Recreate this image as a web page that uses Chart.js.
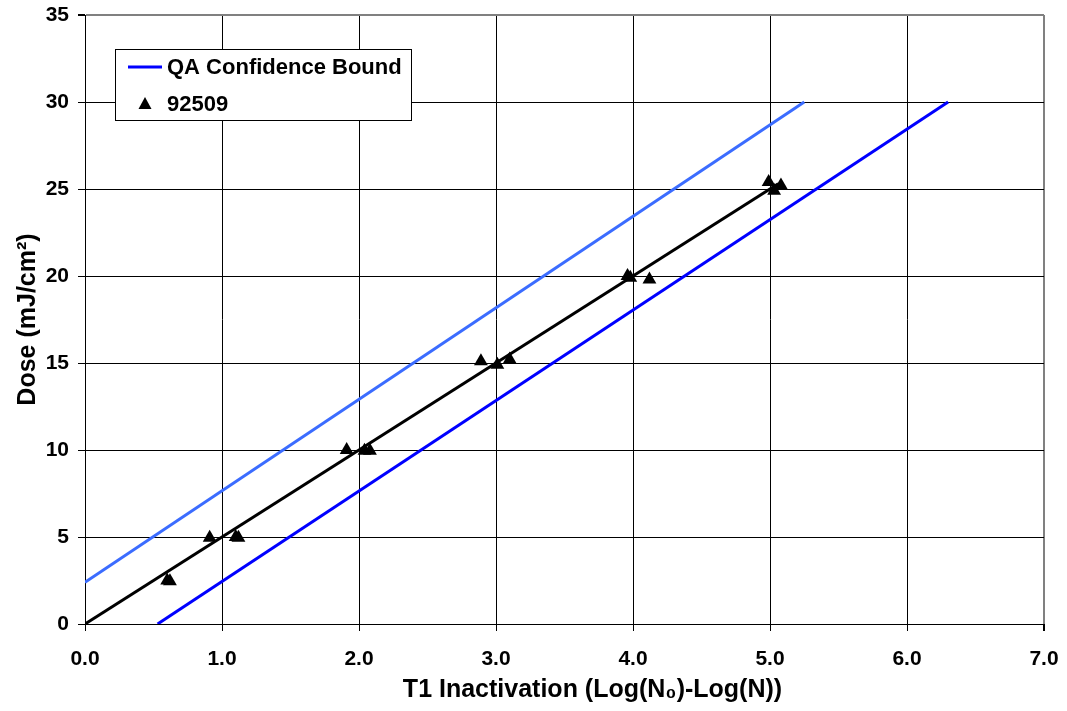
<!DOCTYPE html>
<html>
<head>
<meta charset="utf-8">
<script src="https://cdn.jsdelivr.net/npm/chart.js@4.4.1/dist/chart.umd.min.js"></script>
<style>
html,body{margin:0;padding:0;background:#fff;}
#wrap{width:1067px;height:711px;}
</style>
</head>
<body>
<div id="wrap"><canvas id="chart" width="1067" height="711"></canvas></div>
<script>
// measured samples (92509)
const sampleName="92509";
const sampleX=[0.60,0.62,0.91,1.10,1.12,1.91,2.04,2.08,2.89,3.01,3.10,3.96,3.98,4.12,4.99,5.03,5.08];
const sampleY=[2.50,2.45,4.95,5.00,4.95,10.0,9.95,9.95,15.1,14.9,15.2,20.0,19.9,19.8,25.4,24.9,25.2];

// fit line through samples
const fitX=[0,5.06];
const fitY=[0,25.3];

// QA confidence bounds
const boundName="QA Confidence Bound";
const upperX=[0,5.25];
const upperY=[2.4,30];
const lowerX=[0.53,6.30];
const lowerY=[0,30];

// axes
const xMin=0, xMax=7, xStep=1;
const yMin=0, yMax=35, yStep=5;
const xTitle="T1 Inactivation (Log(N\u2080)-Log(N))";
const yTitle="Dose (mJ/cm\u00b2)";

const FONT="'Liberation Sans', Arial, sans-serif";

function pts(xs,ys){ return xs.map((x,i)=>({x:x,y:ys[i]})); }

// legend box inside the plot + x axis title (sits a bit right of centre in the original)
const boxLegend={
  id:"boxLegend",
  afterDraw(chart){
    const c=chart.ctx;
    const lx=115, ly=49, lw=296, lh=71;
    c.save();
    c.fillStyle="#fff";
    c.fillRect(lx,ly,lw,lh);
    c.strokeStyle="#000";
    c.lineWidth=1;
    c.strokeRect(lx+0.5,ly+0.5,lw,lh);
    const items=chart.data.datasets.filter(d=>d.inLegend);
    c.font="bold 22px "+FONT;
    c.textBaseline="middle";
    items.forEach((d,i)=>{
      const cy=ly+18+i*37;
      if(d.showLine){
        c.strokeStyle=d.borderColor;
        c.lineWidth=3;
        c.beginPath(); c.moveTo(lx+13,cy); c.lineTo(lx+47,cy); c.stroke();
      }else{
        c.fillStyle="#000";
        c.beginPath();
        c.moveTo(lx+30,cy-7); c.lineTo(lx+36.5,cy+5); c.lineTo(lx+23.5,cy+5);
        c.closePath(); c.fill();
      }
      c.fillStyle="#000";
      c.fillText(d.label,lx+52,cy+1);
    });
    // x axis title
    const xs=chart.scales.x;
    c.font="bold 25px "+FONT;
    c.textAlign="center";
    c.fillStyle="#000";
    c.fillText(xTitle,(xs.left+xs.right)/2+28,690);
    c.restore();
  }
};

const gridColor=(edge)=>ctx=>(ctx.tick && ctx.tick.value===edge)?"#808080":"#000";
const gridWidth=(edge)=>ctx=>(ctx.tick && ctx.tick.value===edge)?2:1;

new Chart(document.getElementById("chart").getContext("2d"),{
  type:"scatter",
  data:{
    datasets:[
      {label:boundName,data:pts(lowerX,lowerY),showLine:true,borderColor:"#0000ff",borderWidth:3,pointRadius:0,fill:false,inLegend:true},
      {label:"upper",data:pts(upperX,upperY),showLine:true,borderColor:"#3b6cff",borderWidth:3,pointRadius:0,fill:false},
      {label:"fit",data:pts(fitX,fitY),showLine:true,borderColor:"#000",borderWidth:3,pointRadius:0,fill:false},
      {label:sampleName,data:pts(sampleX,sampleY),showLine:false,pointStyle:"triangle",pointRadius:8,pointHoverRadius:8,backgroundColor:"#000",borderColor:"#000",borderWidth:0,inLegend:true}
    ]
  },
  options:{
    responsive:false,
    animation:false,
    layout:{padding:{top:15,right:23,left:0,bottom:0}},
    plugins:{legend:{display:false},tooltip:{enabled:false}},
    scales:{
      x:{
        type:"linear",min:xMin,max:xMax,
        ticks:{stepSize:xStep,callback:v=>v.toFixed(1),color:"#000",padding:16,font:{family:FONT,size:21,weight:"bold"},maxRotation:0},
        grid:{color:gridColor(xMax),lineWidth:gridWidth(xMax),tickLength:7,tickColor:"#000"},
        border:{color:"#000",width:1},
        title:{display:false},
        afterFit(s){ s.height=87; s.paddingLeft=0; s.paddingRight=0; }
      },
      y:{
        type:"linear",min:yMin,max:yMax,
        ticks:{stepSize:yStep,color:"#000",padding:9,font:{family:FONT,size:21,weight:"bold"}},
        grid:{color:gridColor(yMax),lineWidth:gridWidth(yMax),tickLength:7,tickColor:"#000"},
        border:{color:"#000",width:1},
        title:{display:true,text:yTitle,color:"#000",font:{family:FONT,size:25,weight:"bold"},padding:{top:13,bottom:0}},
        afterFit(s){ s.width=85; s.paddingTop=0; s.paddingBottom=0; }
      }
    }
  },
  plugins:[boxLegend]
});
</script>
</body>
</html>
